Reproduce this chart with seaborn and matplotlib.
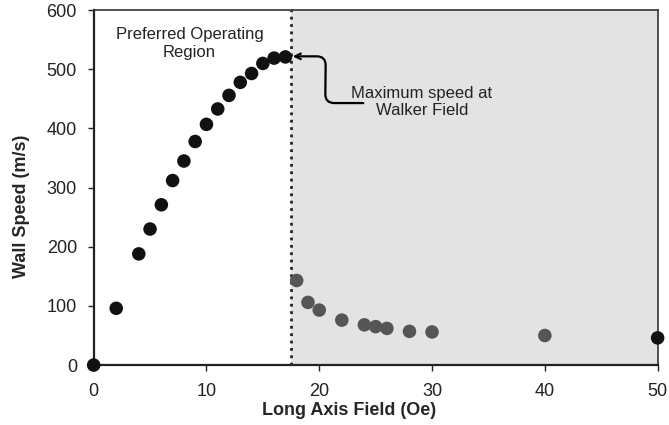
import numpy as np
import pandas as pd
import matplotlib
matplotlib.use("Agg")
import matplotlib.pyplot as plt
import seaborn as sns

field_below = [0, 2, 4, 5, 6, 7, 8, 9, 10, 11, 12, 13, 14, 15, 16, 17]
speed_below = [0, 96, 188, 230, 271, 312, 345, 378, 407, 433, 456, 478, 493, 510, 519, 521]
field_above = [18, 19, 20, 22, 24, 25, 26, 28, 30, 40]
speed_above = [143, 106, 93, 76, 68, 65, 62, 57, 56, 50]
field_high = [50]
speed_high = [46]
walker_field = 17.5

df = pd.DataFrame({
    'field': field_below + field_above + field_high,
    'speed': speed_below + speed_above + speed_high,
    'regime': ['below'] * len(field_below) + ['above'] * len(field_above) + ['high'] * len(field_high),
})

sns.set_style("ticks")
plt.rcParams['font.family'] = ['Liberation Sans', 'DejaVu Sans']

fig = plt.figure(figsize=(6.69, 4.25), dpi=100)
ax = fig.add_axes([0.140, 0.141, 0.843, 0.835])

ax.axvspan(walker_field, 50, color='#e3e3e3', zorder=0, lw=0)
ax.axvline(walker_field, color='#222222', ls=':', lw=2, zorder=1)

sns.scatterplot(data=df, x='field', y='speed', hue='regime',
                palette={'below': '#111111', 'above': '#555555', 'high': '#111111'},
                s=95, edgecolor='none', legend=False, clip_on=False, zorder=3, ax=ax)

ax.set_xlim(0, 50)
ax.set_ylim(0, 600)
ax.set_xticks(range(0, 51, 10))
ax.set_yticks(range(0, 601, 100))
ax.tick_params(axis='both', labelsize=13, length=4, width=1, colors='#222222')
ax.tick_params(axis='y', pad=8)
ax.tick_params(axis='x', pad=9)

for side in ['left', 'bottom']:
    ax.spines[side].set_linewidth(1.6)
    ax.spines[side].set_color('#222222')
for side in ['top', 'right']:
    ax.spines[side].set_visible(True)
    ax.spines[side].set_linewidth(1.2)
    ax.spines[side].set_color('#333333')

ax.set_xlabel("Long Axis Field (Oe)", fontsize=13, fontweight='bold')
ax.set_ylabel("Wall Speed (m/s)", fontsize=13, fontweight='bold')
ax.xaxis.set_label_coords(0.452, -0.105)
ax.yaxis.set_label_coords(-0.112, 0.448)

ax.text(8.5, 544, "Preferred Operating\nRegion", ha='center', va='center',
        fontsize=12, color='#222222', linespacing=1.2)
ax.text(29.1, 445, "Maximum speed at\nWalker Field", ha='center', va='center',
        fontsize=12, color='#222222', linespacing=1.2)

# arms are in display pixels
ax.annotate("", xy=(17.65, 522), xytext=(23.9, 443),
            arrowprops=dict(arrowstyle="->", color='black', lw=1.6,
                            connectionstyle="arc,angleA=180,armA=38,angleB=0,armB=33,rad=9",
                            shrinkA=0, shrinkB=0))

fig.savefig("out.png", dpi=100)
